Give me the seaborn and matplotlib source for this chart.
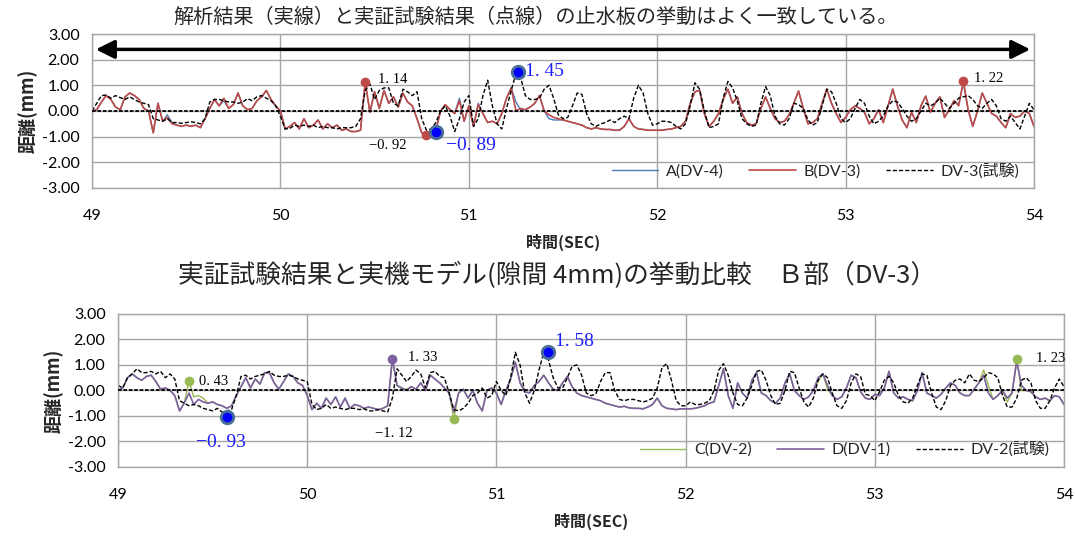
import numpy as np
import pandas as pd
import matplotlib
matplotlib.use("Agg")
import matplotlib.pyplot as plt
import seaborn as sns

# sampling times (s), 0.025 s step
time = np.round(np.linspace(49.0, 54.0, 201), 3)

# ---- upper chart: A(DV-4), B(DV-3), DV-3 (test) ----
a_dv4 = [0.0, 0.05, 0.35, 0.6, 0.45, 0.15, 0.05, 0.55, 0.7, 0.6,
         0.45, 0.1, 0.0, -0.85, 0.3, -0.4, -0.15, -0.45, -0.55, -0.6,
         -0.55, -0.6, -0.55, -0.65, -0.3, 0.1, 0.45, 0.2, 0.4, 0.1,
         0.25, 0.7, 0.2, 0.05, 0.1, 0.4, 0.55, 0.8, 0.45, 0.2,
         0.0, -0.7, -0.6, -0.45, -0.7, -0.3, -0.65, -0.55, -0.35, -0.7,
         -0.5, -0.65, -0.55, -0.75, -0.7, -0.8, -0.8, -0.75, 1.1, -0.05,
         0.75, 0.1, 0.8, 0.3, 0.55, 0.15, 0.7, 0.35, 0.2, -0.3,
         -0.85, -0.9, -0.75, -0.75, 0.0, 0.25, 0.05, -0.1, 0.5, -0.4,
         0.2, -0.6, 0.3, -0.1, -0.45, -0.4, -0.5, -0.1, 0.5, 0.9,
         0.35, 0.05, 0.05, 0.15, 0.3, 0.6, 0.0, -0.3, -0.35, -0.35,
         -0.35, -0.4, -0.45, -0.5, -0.55, -0.65, -0.7, -0.65, -0.7, -0.72,
         -0.72, -0.75, -0.75, -0.6, -0.3, -0.6, -0.7, -0.72, -0.75, -0.75,
         -0.75, -0.75, -0.72, -0.7, -0.65, -0.6, -0.4, 0.3, 0.75, 0.8,
         -0.1, -0.6, -0.4, -0.1, 0.45, 0.85, 0.3, 0.55, -0.1, -0.45,
         -0.55, -0.5, 0.1, 0.55, 0.1, -0.3, -0.45, -0.4, -0.15, 0.3,
         0.78, 0.1, -0.5, -0.45, -0.3, 0.3, 0.85, 0.3, -0.1, -0.45,
         -0.25, 0.05, 0.2, 0.1, -0.05, -0.5, -0.3, 0.05, -0.45, 0.2,
         0.85, 0.2, -0.35, -0.65, -0.05, -0.45, 0.2, 0.58, -0.05, 0.3,
         0.55, -0.25, 0.05, 0.4, 0.25, 1.1, 0.05, -0.6, 0.0, 0.7,
         0.3, -0.1, -0.2, -0.45, -0.65, -0.1, -0.25, -0.2, 0.0, -0.1, -0.6]
b_dv3 = [0.0, 0.05, 0.35, 0.6, 0.45, 0.15, 0.05, 0.55, 0.7, 0.6,
         0.45, 0.1, 0.0, -0.85, 0.3, -0.4, -0.25, -0.5, -0.55, -0.6,
         -0.55, -0.6, -0.55, -0.65, -0.3, 0.1, 0.45, 0.2, 0.5, 0.1,
         0.25, 0.7, 0.2, 0.05, 0.1, 0.4, 0.55, 0.8, 0.45, 0.2,
         0.0, -0.7, -0.6, -0.45, -0.7, -0.3, -0.65, -0.55, -0.35, -0.7,
         -0.5, -0.65, -0.55, -0.75, -0.7, -0.8, -0.8, -0.75, 1.14, -0.05,
         0.75, 0.1, 0.8, 0.3, 0.55, 0.15, 0.7, 0.35, 0.2, -0.3,
         -0.85, -0.92, -0.75, -0.75, 0.0, 0.25, 0.05, -0.1, 0.4, -0.4,
         0.2, -0.6, 0.25, -0.1, -0.45, -0.4, -0.5, -0.1, 0.5, 0.9,
         0.0, 0.1, 0.05, 0.15, 0.3, 0.6, 0.0, -0.15, -0.25, -0.3,
         -0.35, -0.4, -0.45, -0.5, -0.55, -0.65, -0.7, -0.65, -0.7, -0.72,
         -0.72, -0.75, -0.75, -0.6, -0.3, -0.6, -0.7, -0.72, -0.75, -0.75,
         -0.75, -0.75, -0.72, -0.7, -0.65, -0.6, -0.4, 0.3, 0.75, 0.8,
         -0.1, -0.6, -0.4, -0.1, 0.45, 0.85, 0.3, 0.55, -0.1, -0.45,
         -0.55, -0.5, 0.1, 0.55, 0.1, -0.3, -0.45, -0.4, -0.15, 0.3,
         0.78, 0.1, -0.5, -0.45, -0.3, 0.3, 0.85, 0.3, -0.1, -0.45,
         -0.25, 0.05, 0.2, 0.1, -0.05, -0.5, -0.3, 0.05, -0.45, 0.2,
         0.85, 0.2, -0.35, -0.65, -0.05, -0.45, 0.2, 0.58, -0.05, 0.3,
         0.55, -0.25, 0.05, 0.4, 0.2, 1.17, 0.05, -0.6, 0.0, 0.7,
         0.3, -0.1, -0.2, -0.45, -0.65, -0.1, -0.25, -0.2, 0.0, -0.1, -0.6]
dv3_test = [0.0, 0.3, 0.6, 0.62, 0.5, 0.6, 0.52, 0.45, 0.55, 0.45,
            0.35, 0.3, 0.25, -0.3, -0.35, -0.4, -0.3, -0.45, -0.45, -0.48,
            -0.45, -0.42, -0.45, -0.5, -0.3, 0.35, 0.45, 0.45, 0.4, 0.35,
            0.35, 0.3, 0.35, 0.48, 0.4, 0.55, 0.6, 0.5, 0.4, 0.2,
            -0.2, -0.7, -0.68, -0.55, -0.6, -0.55, -0.6, -0.55, -0.65, -0.6,
            -0.65, -0.65, -0.7, -0.65, -0.65, -0.65, -0.6, -0.3, 0.8, 1.05,
            0.45, 0.8, 0.9, 0.9, 0.3, 0.2, 0.85, 0.75, 0.6, 0.75,
            -0.3, -0.75, -0.7, -0.45, 0.0, 0.2, -0.2, -0.8, -0.3, 0.35,
            0.6, -0.6, -0.3, 0.6, 1.2, 0.2, -0.5, -0.7, 0.1, 0.8,
            1.45, 1.3, 0.6, 0.45, 0.45, 0.5, 0.85, 1.0, 0.5, -0.15,
            -0.3, -0.25, 0.2, 0.7, 0.65, -0.1, -0.5, -0.6, -0.5, -0.45,
            -0.35, -0.45, -0.3, -0.2, -0.3, 0.5, 1.0, 0.7, -0.1, -0.55,
            -0.5, -0.4, -0.4, -0.45, -0.6, -0.7, -0.5, 0.2, 1.1, 0.85,
            0.0, -0.65, -0.6, -0.5, 0.5, 1.15, 0.9, 0.4, -0.3, -0.5,
            -0.6, -0.55, 0.3, 0.95, 0.6, -0.2, -0.5, -0.55, -0.3, 0.3,
            0.25, 0.1, -0.35, -0.55, -0.45, 0.2, 0.85, 0.75, 0.3, -0.3,
            -0.45, -0.3, 0.1, 0.45, 0.3, -0.2, -0.5, -0.4, -0.2, 0.2,
            0.4, 0.35, 0.1, -0.2, -0.4, -0.3, 0.0, 0.3, 0.2, 0.3,
            0.5, 0.3, 0.1, 0.3, 0.5, 0.55, 0.6, 0.45, 0.2, 0.1,
            0.3, 0.45, 0.2, -0.3, -0.4, -0.2, -0.45, -0.7, -0.2, 0.3, 0.05]

# ---- lower chart: C(DV-2), D(DV-1), DV-2 (test) ----
c_dv2 = [0.0, 0.1, 0.5, 0.65, 0.5, 0.4, 0.55, 0.6, 0.35, 0.05,
         0.1, 0.0, -0.2, -0.8, -0.5, 0.38, -0.25, -0.2, -0.3, -0.5,
         -0.45, -0.55, -0.6, -0.7, -0.6, -0.2, 0.15, 0.5, 0.1, 0.45,
         0.25, 0.7, 0.7, 0.3, 0.05, 0.35, 0.65, 0.55, 0.3, 0.2,
         -0.2, -0.75, -0.5, -0.7, -0.3, -0.55, -0.25, -0.65, -0.3, -0.7,
         -0.55, -0.6, -0.7, -0.65, -0.7, -0.75, -0.7, -0.6, 1.2, 0.2,
         0.05, 0.05, 0.15, 0.05, 0.3, 0.0, 0.6, 0.45, 0.3, 0.1,
         -0.1, -1.12, -0.1, 0.05, -0.3, 0.0, -0.5, -0.8, 0.0, 0.1,
         -0.1, -0.55, 0.0, 0.45, 1.1, 0.3, -0.05, -0.1, 0.2, 0.35,
         0.6, 0.3, 0.05, 0.0, 0.3, 0.55, 0.15, -0.1, -0.2, -0.25,
         -0.3, -0.35, -0.4, -0.5, -0.55, -0.6, -0.65, -0.62, -0.68, -0.7,
         -0.7, -0.72, -0.65, -0.55, -0.3, -0.6, -0.7, -0.72, -0.75, -0.72,
         -0.72, -0.72, -0.7, -0.65, -0.6, -0.5, -0.45, 0.2, 0.85, -0.2,
         -0.7, 0.3, -0.1, -0.3, 0.4, 0.7, -0.1, -0.2, -0.4, -0.5,
         -0.3, 0.3, 0.65, 0.0, -0.2, -0.35, -0.25, 0.0, 0.35, 0.65,
         0.05, -0.2, -0.35, -0.25, 0.1, 0.6, 0.5, -0.05, -0.3, -0.35,
         -0.15, -0.2, 0.1, 0.75, -0.1, -0.3, -0.25, -0.35, -0.4, 0.0,
         0.7, -0.1, -0.2, -0.3, -0.15, 0.1, 0.3, 0.2, -0.1, -0.2,
         -0.2, 0.05, 0.3, 0.8, 0.2, -0.35, -0.2, 0.0, -0.45, -0.1,
         1.23, 0.0, 0.0, -0.05, -0.25, -0.35, -0.3, -0.4, -0.2, -0.25, -0.55]
d_dv1 = [0.0, 0.1, 0.5, 0.65, 0.5, 0.4, 0.55, 0.6, 0.35, 0.05,
         0.1, 0.0, -0.2, -0.8, -0.5, -0.1, -0.55, -0.35, -0.45, -0.5,
         -0.45, -0.55, -0.6, -0.7, -0.6, -0.2, 0.15, 0.5, 0.1, 0.45,
         0.25, 0.7, 0.7, 0.3, 0.05, 0.35, 0.65, 0.55, 0.3, 0.2,
         -0.2, -0.75, -0.5, -0.7, -0.3, -0.55, -0.25, -0.65, -0.3, -0.7,
         -0.55, -0.6, -0.7, -0.65, -0.7, -0.75, -0.7, -0.6, 1.25, 0.2,
         0.1, 0.0, 0.15, 0.05, 0.3, 0.0, 0.6, 0.45, 0.3, 0.1,
         -0.1, -0.85, -0.1, 0.05, -0.3, 0.0, -0.5, -0.8, 0.0, 0.1,
         -0.1, -0.55, 0.0, 0.45, 1.1, 0.3, -0.05, -0.1, 0.2, 0.35,
         0.6, 0.3, 0.05, 0.0, 0.3, 0.55, 0.15, -0.1, -0.2, -0.25,
         -0.3, -0.35, -0.4, -0.5, -0.55, -0.6, -0.65, -0.62, -0.68, -0.7,
         -0.7, -0.72, -0.65, -0.55, -0.3, -0.6, -0.7, -0.72, -0.75, -0.72,
         -0.72, -0.72, -0.7, -0.65, -0.6, -0.5, -0.45, 0.2, 0.85, -0.2,
         -0.7, 0.3, -0.1, -0.3, 0.4, 0.7, -0.1, -0.2, -0.4, -0.5,
         -0.3, 0.3, 0.65, 0.0, -0.2, -0.35, -0.25, 0.0, 0.5, 0.65,
         0.2, -0.2, -0.35, -0.25, 0.1, 0.6, 0.5, -0.05, -0.3, -0.35,
         -0.15, -0.2, 0.1, 0.75, -0.1, -0.3, -0.25, -0.35, -0.4, 0.0,
         0.7, -0.1, -0.2, -0.3, -0.15, 0.1, 0.3, 0.2, -0.1, -0.2,
         -0.2, 0.05, 0.3, 0.6, -0.1, -0.35, -0.2, 0.0, -0.3, -0.1,
         1.15, 0.2, 0.0, -0.05, -0.25, -0.35, -0.3, -0.4, -0.2, -0.25, -0.55]
dv2_test = [0.2, 0.1, 0.5, 0.65, 0.85, 0.7, 0.7, 0.75, 0.65, 0.75,
            0.5, 0.65, 0.45, -0.4, -0.5, -0.6, -0.55, -0.6, -0.7, -0.75,
            -0.8, -0.7, -0.85, -0.8, -0.75, -0.2, 0.55, 0.6, 0.45, 0.55,
            0.6, 0.65, 0.75, 0.6, 0.55, 0.55, 0.6, 0.55, 0.45, 0.4,
            0.35, -0.55, -0.75, -0.7, -0.55, -0.7, -0.65, -0.7, -0.75, -0.7,
            -0.7, -0.75, -0.72, -0.8, -0.8, -0.75, -0.8, -0.85, -0.3, 0.85,
            0.6, 0.35, 0.55, 0.8, 0.65, 0.1, 0.7, 0.75, 0.55, 0.5,
            -0.1, -0.75, -0.8, -0.7, -0.5, -0.2, -0.1, 0.1, -0.3, -0.2,
            0.35, 0.0, -0.2, 0.5, 1.5, 1.0, -0.1, -0.5, 0.0, 0.8,
            1.5, 1.2, 0.5, 0.1, 0.1, 0.5, 0.95, 1.0, 0.6, -0.1,
            -0.2, -0.15, 0.35, 0.7, 0.7, 0.0, -0.35, -0.4, -0.35, -0.35,
            -0.4, -0.45, -0.4, -0.3, 0.1, 0.9, 1.05, 0.4, -0.4, -0.6,
            -0.6, -0.45, -0.55, -0.55, -0.5, -0.4, 0.0, 0.8, 1.05, 0.6,
            -0.1, -0.55, -0.6, -0.3, 0.2, 0.75, 0.8, 0.4, -0.2, -0.55,
            -0.5, 0.0, 0.75, 0.7, 0.1, -0.45, -0.65, -0.3, 0.4, 0.65,
            0.5, -0.1, -0.6, -0.7, -0.4, 0.3, 0.65, 0.55, -0.15, -0.2,
            -0.4, -0.05, 0.4, 0.55, 0.3, -0.2, -0.45, -0.5, -0.3, 0.2,
            0.65, 0.6, -0.1, -0.65, -0.75, -0.4, 0.2, 0.4, 0.45, 0.3,
            0.65, 0.4, 0.35, 0.5, 0.7, 0.65, 0.5, -0.2, -0.65, -0.65,
            -0.3, 0.4, 0.5, 0.3, -0.4, -0.7, -0.7, -0.4, 0.1, 0.45, 0.15]

# highlighted points (time, value) and their labels
top_red_pts_t = [50.45, 50.775, 53.625]
top_red_pts_v = [1.14, -0.92, 1.17]
top_blue_pts_t = [50.825, 51.26]
top_blue_pts_v = [-0.8, 1.5]
top_labels = [("1. 14", 50.52, 1.21, "black"), ("\u22120. 92", 50.47, -1.36, "black"),
              ("\u22120. 89", 50.88, -1.36, "blue"), ("1. 45", 51.3, 1.52, "blue"),
              ("1. 22", 53.68, 1.25, "black")]

bot_green_pts_t = [49.375, 50.775, 53.75]
bot_green_pts_v = [0.38, -1.12, 1.23]
bot_purple_pts_t = [50.45]
bot_purple_pts_v = [1.25]
bot_blue_pts_t = [49.575, 51.275]
bot_blue_pts_v = [-1.05, 1.52]
bot_labels = [("0. 43", 49.43, 0.37, "black"), ("\u22120. 93", 49.41, -2.05, "blue"),
              ("1. 33", 50.53, 1.31, "black"), ("\u22121. 12", 50.36, -1.67, "black"),
              ("1. 58", 51.31, 1.94, "blue"), ("1. 23", 53.85, 1.27, "black")]

sns.set_theme(style="white")
plt.rcParams["font.family"] = ["Lato", "Noto Sans CJK JP", "DejaVu Sans"]
plt.rcParams["axes.unicode_minus"] = False

CJK = ["Noto Sans CJK JP", "DejaVu Sans"]
SERIF = ["Liberation Serif", "DejaVu Serif"]
GRID = "#a6a6a6"

fig = plt.figure(figsize=(10.75, 5.38), dpi=100)
ax1 = fig.add_axes([0.0856, 0.6506, 0.8763, 0.2862])
ax2 = fig.add_axes([0.1098, 0.1320, 0.8800, 0.2844])

top = pd.DataFrame({"t": time, "A": a_dv4, "B": b_dv3, "T": dv3_test})
bot = pd.DataFrame({"t": time, "C": c_dv2, "D": d_dv1, "T": dv2_test})


def style_axes(ax):
    ax.set_xlim(49, 54)
    ax.set_ylim(-3, 3)
    ax.set_xticks(range(49, 55))
    ax.set_yticks(range(-3, 4))
    ax.set_yticklabels([f"{v:.2f}" for v in range(-3, 4)])
    ax.grid(True, color=GRID, lw=1.0)
    for s in ax.spines.values():
        s.set_color(GRID)
        s.set_linewidth(1.0)
    ax.tick_params(axis="both", direction="out", length=5, color=GRID,
                   labelsize=11.5, colors="black", pad=4)
    ax.tick_params(axis="x", pad=10)
    ax.axhline(0, color="black", lw=1.3, ls=(0, (2, 1)), zorder=3)
    ax.set_xlabel("時間(SEC)", family=CJK, weight="bold", fontsize=11.5, labelpad=8)
    ax.set_ylabel("距離(mm)", family=CJK, weight="bold", fontsize=13, labelpad=3)


def dots(ax, ts, vs, color, size=7, edge=None):
    sns.scatterplot(x=ts, y=vs, ax=ax, color=color, s=size ** 2,
                    edgecolor=edge if edge else color,
                    linewidth=2 if edge else 0, zorder=5, legend=False)


def labels(ax, items):
    for txt, x, y, col in items:
        big = col == "blue"
        ax.text(x, y, txt, color=col if not big else "#1f1fff", family=SERIF,
                fontsize=14 if big else 10.5, ha="left", va="center", zorder=6)


# upper chart
sns.lineplot(data=top, x="t", y="A", ax=ax1, color="#4a7ebb", lw=1.0, label="A(DV-4)")
sns.lineplot(data=top, x="t", y="B", ax=ax1, color="#be4b48", lw=1.2, label="B(DV-3)")
sns.lineplot(data=top, x="t", y="T", ax=ax1, color="black", lw=1.0, label="DV-3(試験)",
             linestyle=(0, (3, 1.5)))
style_axes(ax1)
dots(ax1, top_red_pts_t, top_red_pts_v, "#be4b48")
dots(ax1, top_blue_pts_t, top_blue_pts_v, "#0000ff", size=9, edge="#4a6f96")
labels(ax1, top_labels)
ax1.annotate("", xy=(53.98, 2.4), xytext=(49.02, 2.4),
             arrowprops=dict(arrowstyle="<|-|>", lw=2.5, color="black",
                             mutation_scale=28, shrinkA=0, shrinkB=0))
ax1.legend(loc="lower right", bbox_to_anchor=(1.0, -0.03), ncol=3, frameon=False,
           handlelength=2.9, fontsize=11.5, columnspacing=1.6, handletextpad=0.5)

# lower chart
sns.lineplot(data=bot, x="t", y="C", ax=ax2, color="#98b954", lw=1.0, label="C(DV-2)")
sns.lineplot(data=bot, x="t", y="D", ax=ax2, color="#7d60a0", lw=1.2, label="D(DV-1)")
sns.lineplot(data=bot, x="t", y="T", ax=ax2, color="black", lw=1.0, label="DV-2(試験)",
             linestyle=(0, (3, 1.5)))
style_axes(ax2)
dots(ax2, bot_green_pts_t, bot_green_pts_v, "#98b954")
dots(ax2, bot_purple_pts_t, bot_purple_pts_v, "#7d60a0")
dots(ax2, bot_blue_pts_t, bot_blue_pts_v, "#0000ff", size=9, edge="#4a6f96")
labels(ax2, bot_labels)
ax2.legend(loc="lower right", bbox_to_anchor=(1.0, -0.03), ncol=3, frameon=False,
           handlelength=2.9, fontsize=11.5, columnspacing=1.6, handletextpad=0.5)

# titles
fig.text(0.498, 0.967, "解析結果（実線）と実証試験結果（点線）の止水板の挙動はよく一致している。",
         family=CJK, fontsize=14.5, ha="center", va="center")
fig.text(0.518, 0.488, "実証試験結果と実機モデル(隙間 4mm)の挙動比較　Ｂ部（DV-3）",
         family=CJK, fontsize=18.5, ha="center", va="center")

fig.savefig("out.png", dpi=100)
